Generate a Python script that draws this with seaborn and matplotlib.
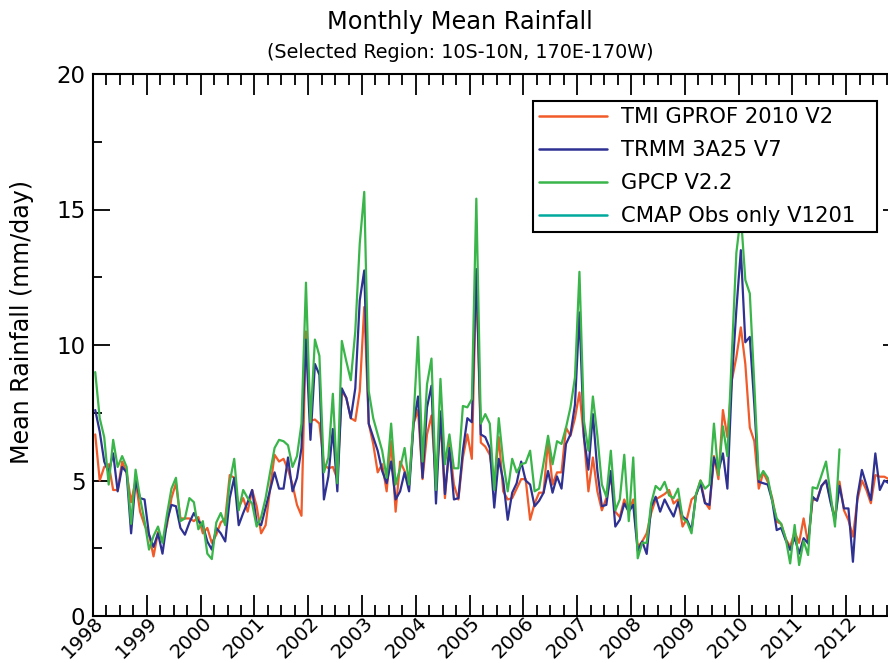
import numpy as np
import pandas as pd
import matplotlib
matplotlib.use("Agg")
import matplotlib.pyplot as plt
import matplotlib.transforms as mtransforms
import seaborn as sns
from matplotlib.ticker import MultipleLocator
from matplotlib.lines import Line2D

# Monthly mean rainfall (mm/day), 10S-10N, 170E-170W, Jan 1998 onwards
tmi_gprof = [
    6.7, 5.0, 5.5, 5.6, 4.65, 4.65, 5.7, 5.3, 4.2, 5.0, 3.85, 3.35,      # 1998
    3.0, 2.2, 3.1, 2.75, 3.35, 4.35, 4.9, 3.6, 3.6, 3.6, 3.5, 3.65,       # 1999
    3.05, 3.25, 2.7, 3.0, 3.45, 3.6, 5.2, 5.1, 4.0, 4.35, 3.85, 4.65,     # 2000
    4.05, 3.05, 3.35, 4.7, 5.95, 5.7, 5.8, 5.4, 4.85, 4.1, 3.7, 10.5,     # 2001
    7.2, 7.25, 7.1, 5.6, 5.45, 5.5, 5.05, 8.3, 8.05, 7.3, 7.2, 8.3,       # 2002
    11.4, 7.1, 6.35, 5.3, 5.6, 4.6, 6.45, 3.85, 5.7, 5.35, 4.85, 7.1,     # 2003
    7.6, 5.05, 6.7, 7.4, 4.85, 7.2, 4.35, 6.35, 4.85, 4.3, 5.85, 6.7,     # 2004
    5.8, 12.6, 6.4, 6.25, 5.95, 4.85, 6.6, 4.6, 4.3, 4.35, 4.7, 5.05,     # 2005
    5.05, 3.55, 4.15, 4.55, 4.55, 6.45, 4.85, 5.3, 5.3, 6.95, 6.65, 7.3,  # 2006
    8.25, 6.6, 4.6, 5.85, 4.6, 3.9, 4.35, 5.15, 3.85, 3.65, 4.3, 3.85,    # 2007
    4.3, 2.55, 2.75, 3.05, 3.8, 4.3, 4.4, 4.5, 4.65, 4.15, 4.3, 3.3,      # 2008
    3.6, 4.3, 4.45, 5.0, 4.2, 3.95, 5.9, 5.05, 7.6, 6.6, 8.7, 9.55,       # 2009
    10.65, 9.3, 6.95, 6.45, 4.7, 5.3, 4.95, 4.35, 3.48, 3.4, 2.85, 2.56,  # 2010
    3.1, 2.7, 3.6, 2.68, 4.28, 4.3, 4.8, 5.0, 4.3, 3.6, 4.96, 3.9,        # 2011
    3.54, 2.93, 4.28, 5.0, 4.65, 4.16, 5.2, 5.14, 5.14, 5.05, 5.0, 5.0,   # 2012
]

trmm_3a25 = [
    7.6, 6.8, 5.7, 5.3, 6.0, 4.6, 5.5, 5.3, 3.05, 5.0, 4.35, 4.3,         # 1998
    3.0, 2.55, 3.05, 2.3, 3.5, 4.1, 4.05, 3.25, 3.0, 3.45, 3.8, 3.5,      # 1999
    3.35, 2.75, 2.45, 3.25, 3.05, 2.75, 4.35, 5.1, 3.35, 3.8, 4.2, 4.65,  # 2000
    3.45, 3.35, 4.0, 4.65, 5.3, 4.7, 4.7, 5.85, 4.6, 5.1, 6.2, 10.2,      # 2001
    6.5, 9.3, 8.9, 4.3, 5.15, 6.9, 4.6, 8.4, 8.05, 7.3, 8.4, 11.65,       # 2002
    12.75, 7.1, 6.6, 6.1, 5.35, 4.9, 5.7, 4.3, 4.6, 5.3, 4.6, 7.1,        # 2003
    8.1, 5.1, 7.7, 8.5, 4.15, 7.55, 4.5, 6.2, 4.3, 4.35, 6.1, 7.3,        # 2004
    7.15, 12.8, 6.7, 6.6, 6.2, 4.0, 5.8, 5.0, 3.55, 4.55, 4.9, 5.7,       # 2005
    5.0, 4.85, 4.05, 4.25, 4.55, 5.35, 4.55, 5.15, 4.7, 6.35, 6.7, 7.8,   # 2006
    11.2, 6.6, 5.4, 7.45, 5.35, 4.05, 4.1, 5.35, 3.3, 3.55, 4.15, 3.85,   # 2007
    4.1, 2.4, 2.75, 2.29, 4.03, 4.4, 3.85, 4.3, 3.97, 3.67, 4.2, 3.67,    # 2008
    3.54, 3.17, 4.47, 4.9, 4.16, 4.1, 5.85, 5.35, 6.0, 4.7, 8.7, 11.3,    # 2009
    13.5, 10.1, 10.3, 7.8, 4.95, 4.9, 4.85, 4.25, 3.17, 3.25, 2.8, 2.44,  # 2010
    2.9, 2.3, 2.87, 2.68, 4.4, 4.25, 4.8, 5.0, 4.2, 3.54, 4.8, 3.97,      # 2011
    3.97, 2.0, 4.4, 5.39, 4.83, 4.28, 6.0, 4.65, 5.0, 4.9, 5.0, 4.95,     # 2012
]

gpcp = [
    9.0, 7.3, 6.6, 4.85, 6.5, 5.5, 5.9, 5.5, 3.4, 5.4, 4.35, 3.5,         # 1998
    2.45, 2.95, 3.3, 2.7, 3.75, 4.7, 5.1, 3.5, 3.6, 4.35, 4.2, 3.2,       # 1999
    3.5, 2.3, 2.1, 3.45, 3.8, 3.35, 4.95, 5.8, 3.9, 4.65, 4.35, 4.15,     # 2000
    3.3, 3.65, 4.35, 5.3, 6.2, 6.5, 6.45, 6.3, 5.5, 5.9, 7.1, 12.3,       # 2001
    7.15, 10.2, 9.6, 5.3, 5.85, 8.2, 4.9, 10.15, 9.4, 8.7, 10.5, 13.75,   # 2002
    15.65, 8.3, 7.3, 6.7, 6.1, 5.1, 7.1, 4.85, 5.45, 6.2, 4.85, 7.3,      # 2003
    10.3, 5.7, 8.55, 9.5, 4.65, 8.75, 5.6, 6.7, 5.45, 5.45, 7.75, 7.7,    # 2004
    8.0, 15.4, 7.1, 7.45, 7.1, 4.65, 7.3, 5.7, 4.6, 5.8, 5.3, 5.6,        # 2005
    5.65, 6.1, 4.6, 4.7, 5.65, 6.65, 5.6, 6.45, 6.35, 6.95, 7.7, 8.8,     # 2006
    12.7, 7.2, 6.1, 8.1, 6.65, 4.85, 4.4, 6.1, 3.9, 4.3, 5.95, 3.5,       # 2007
    5.85, 2.13, 2.7, 2.7, 4.16, 4.8, 4.65, 4.95, 4.45, 4.35, 4.7, 3.6,    # 2008
    3.48, 3.05, 4.5, 5.0, 4.7, 4.85, 7.1, 5.2, 7.0, 5.9, 9.7, 13.4,       # 2009
    14.8, 12.4, 11.9, 8.55, 5.05, 5.35, 5.1, 4.25, 3.6, 3.4, 2.87, 1.94,  # 2010
    3.36, 1.88, 2.77, 2.25, 4.75, 4.7, 5.2, 5.7, 4.5, 3.3, 6.15,          # 2011 (to Nov)
]

cmap_obs = []  # no CMAP values in this record

series_names = ["TMI GPROF 2010 V2", "TRMM 3A25 V7", "GPCP V2.2", "CMAP Obs only V1201"]
series_values = [tmi_gprof, trmm_3a25, gpcp, cmap_obs]
series_colors = ["#F15A29", "#2E3192", "#39B54A", "#00A99D"]

year_ticks = list(range(1998, 2013))
year_labels = [str(y) for y in year_ticks]

start_year = 1998


def month_centres(n):
    return start_year + (np.arange(n) + 0.5) / 12.0


frames = []
for name, vals in zip(series_names, series_values):
    frames.append(pd.DataFrame({
        "time": month_centres(len(vals)),
        "rain": np.asarray(vals, dtype=float),
        "product": name,
    }))
df = pd.concat(frames, ignore_index=True)

sns.set_style("ticks")
plt.rcParams.update({
    "font.family": ["DejaVu Sans"],
    "axes.linewidth": 1.5,
    "text.color": "black",
    "axes.labelcolor": "black",
    "xtick.color": "black",
    "ytick.color": "black",
    "axes.edgecolor": "black",
})

fig = plt.figure(figsize=(8.88, 6.63), dpi=100)
ax = fig.add_axes([93 / 888, 47 / 663, 807 / 888, 542 / 663])

sns.lineplot(
    data=df, x="time", y="rain", hue="product", hue_order=series_names,
    palette=dict(zip(series_names, series_colors)), linewidth=1.6,
    estimator=None, sort=False, legend=False, ax=ax,
)

ax.set_xlim(1998, 2013)
ax.set_ylim(0, 20)
ax.set_xlabel("")
ax.set_ylabel("")

ax.set_xticks(year_ticks)
ax.set_xticklabels(year_labels, rotation=45, ha="right", va="top",
                   rotation_mode="anchor", fontsize=14.2)
ax.xaxis.set_minor_locator(MultipleLocator(0.25))
ax.yaxis.set_major_locator(MultipleLocator(5))
ax.yaxis.set_minor_locator(MultipleLocator(2.5))
ax.tick_params(axis="y", labelsize=16.5)

ax.tick_params(which="both", direction="in", top=True, right=True,
               color="black", width=1.3)
ax.tick_params(axis="x", which="major", length=15, pad=3)
ax.tick_params(axis="x", which="minor", length=8)
ax.tick_params(axis="y", which="major", length=12, pad=5.5)
ax.tick_params(axis="y", which="minor", length=6.5)
for sp in ax.spines.values():
    sp.set_color("black")
    sp.set_linewidth(1.5)

# lift the slanted year labels up against the axis
shift = mtransforms.ScaledTranslation(1 / 100, 7 / 100, fig.dpi_scale_trans)
for lbl in ax.get_xticklabels():
    lbl.set_transform(lbl.get_transform() + shift)

fig.text(460 / 888, 1 - 22 / 663, "Monthly Mean Rainfall",
         ha="center", va="center", fontsize=17.3)
fig.text(460 / 888, 1 - 52 / 663, "(Selected Region: 10S-10N, 170E-170W)",
         ha="center", va="center", fontsize=13.8)
fig.text(22 / 888, 1 - 322 / 663, "Mean Rainfall (mm/day)",
         rotation=90, ha="center", va="center", fontsize=17.1)

handles = [Line2D([], [], color=c, linewidth=1.8) for c in series_colors]
leg = fig.legend(
    handles, series_names, loc="upper left", mode="expand",
    bbox_to_anchor=(533 / 888, 1 - 231 / 663, 344 / 888, 130 / 663),
    bbox_transform=fig.transFigure, borderaxespad=0,
    frameon=True, fancybox=False, edgecolor="black", framealpha=1,
    fontsize=15.2, handlelength=3.2, handletextpad=0.66,
    borderpad=0.3, labelspacing=0.61,
)
leg.get_frame().set_linewidth(1.5)

fig.savefig("out.png", dpi=100)
